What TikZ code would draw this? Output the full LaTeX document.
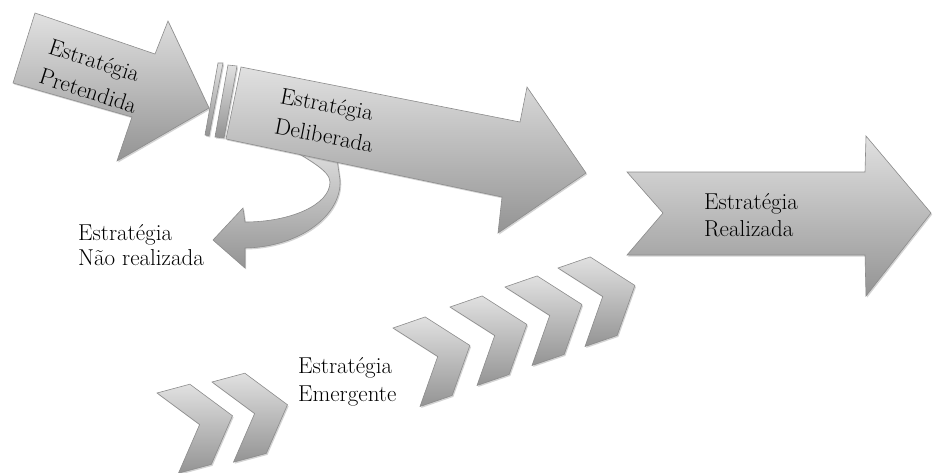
\documentclass[tikz,border=0pt]{standalone}
\usetikzlibrary{shadows}

\tikzset{
  block/.style={draw=black!45, line width=0.6pt, top color=black!12, bottom color=black!42,
    drop shadow={opacity=0.35, shadow xshift=1.2pt, shadow yshift=-1.5pt}},
  lbl/.style={align=left, inner sep=0pt, font=\fontsize{23}{27}\selectfont}
}

\begin{document}
\begin{tikzpicture}[x=1pt,y=-1pt]
  \useasboundingbox (0,0) rectangle (933,473);
  % intended
  \path[block] (35,13) -- (155,54) -- (168,21) -- (209,108) -- (117,161) -- (132,117) -- (13,83) -- cycle;
  % not realized, curling out from under the deliberate one
  \path[block] (335,145) -- (340,180) .. controls (342,215) and (300,247) .. (245,248)
    -- (245,268) -- (213,240) -- (243,208) -- (245,222)
    .. controls (290,222) and (330,205) .. (330,182) .. controls (330,170) and (305,158) .. (285,145) -- cycle;
  % joint
  \path[block] (218,63) -- (223,63) -- (209,136) -- (205,135) -- cycle;
  \path[block] (228,65) -- (237,66) -- (224,138) -- (215,137) -- cycle;
  % deliberate
  \path[block] (241,67) -- (520,122) -- (527,87) -- (586,173) -- (498,233) -- (502,197) -- (226,139) -- cycle;
  % realized
  \path[block] (627,172) -- (865,172) -- (866,136) -- (931,213) -- (866,296) -- (865,255) -- (627,255) -- (663,213) -- cycle;
  % emergent
  \foreach \x/\y/\r in {157/393/15, 212/382/15, 393/328/19, 450/307/19, 505/287/19, 558/268/19}
    \path[block, shift={(\x,\y)}, rotate=\r] (0,0) -- (34,0) -- (67,41.5) -- (34,83) -- (0,83) -- (33,41.5) -- cycle;

  \path
  node[lbl, rotate=-18, font=\fontsize{23}{31}\selectfont] (intended) at (93,76) {Estratégia\\Pretendida}
  node[lbl, rotate=-11, font=\fontsize{23}{31}\selectfont] (deliberate) at (327,120) {Estratégia\\Deliberada}
  node[lbl] (realized) at (751,215) {Estratégia\\Realizada}
  node[lbl, anchor=west, font=\fontsize{23}{25}\selectfont] (unrealized) at (78,245) {Estratégia\\Não realizada}
  node[lbl, anchor=west, font=\fontsize{23}{28.5}\selectfont] (emergent) at (298,382) {Estratégia\\Emergente}
  ;
\end{tikzpicture}
\end{document}
